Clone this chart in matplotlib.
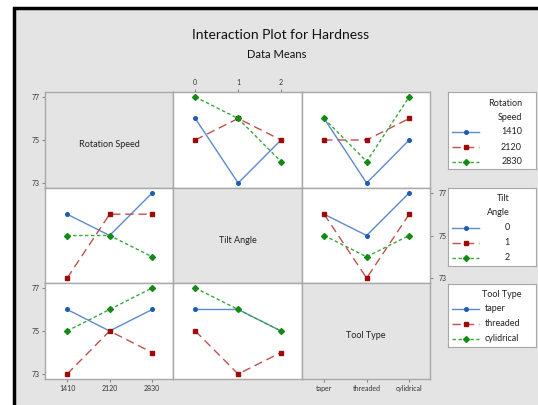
import matplotlib
matplotlib.use("Agg")
import matplotlib.pyplot as plt
from matplotlib.patches import Rectangle

plt.rcParams['font.family'] = ['Lato', 'DejaVu Sans']

# factors and levels
factors = ["Rotation Speed", "Tilt Angle", "Tool Type"]
speed_levels = ["1410", "2120", "2830"]
tilt_levels = ["0", "1", "2"]
tool_levels = ["taper", "threaded", "cylidrical"]
level_names = [speed_levels, tilt_levels, tool_levels]
legend_titles = ["Rotation\nSpeed", "Tilt\nAngle", "Tool Type"]

# means: row factor = traced series, column factor = x axis
# row 0: rotation speed series
speed_vs_tilt = [[76, 73, 75], [75, 76, 75], [77, 76, 74]]
speed_vs_tool = [[76, 73, 75], [75, 75, 76], [76, 74, 77]]
# row 1: tilt angle series
tilt_vs_speed = [[76, 75, 77], [73, 76, 76], [75, 75, 74]]
tilt_vs_tool = [[76, 75, 77], [76, 73, 76], [75, 74, 75]]
# row 2: tool type series
tool_vs_speed = [[76, 75, 76], [73, 75, 74], [75, 76, 77]]
tool_vs_tilt = [[76, 76, 75], [75, 73, 74], [77, 76, 75]]

means = {(0, 1): speed_vs_tilt, (0, 2): speed_vs_tool,
         (1, 0): tilt_vs_speed, (1, 2): tilt_vs_tool,
         (2, 0): tool_vs_speed, (2, 1): tool_vs_tilt}

yticks = [73, 75, 77]

line_cols = ["#5a8ad0", "#c0504d", "#3aa83a"]
mark_cols = ["#1f5cb8", "#9c0a0a", "#138a13"]
styles = ["-", (0, (6, 3.5)), (0, (2.5, 1.8))]
markers = ["o", "s", "D"]
msizes = [2.6, 3, 3]

W, H = 538, 405
fig = plt.figure(figsize=(W / 100, H / 100), dpi=100)
fig.patch.set_facecolor("white")
# gray frame with black border (left and top edges visible)
fig.patches.append(Rectangle((14 / W, -0.05), 1.1, 1.05 - 8 / H, transform=fig.transFigure,
                             facecolor="#e4e4e4", edgecolor="black", linewidth=2.5,
                             zorder=-10))

def px(x0, y0, x1, y1):
    return [x0 / W, 1 - y1 / H, (x1 - x0) / W, (y1 - y0) / H]

col_x = [45, 173, 302, 430]
row_y = [92, 188, 283, 379]
edge = "#a8a8a8"

for r in range(3):
    for c in range(3):
        ax = fig.add_axes(px(col_x[c], row_y[r], col_x[c + 1], row_y[r + 1]))
        ax.set_xlim(-0.52, 2.49)
        ax.set_ylim(72.77, 77.23)
        for s in ax.spines.values():
            s.set_color(edge)
            s.set_linewidth(1)
        ax.tick_params(length=0, labelsize=5, colors="#333333", pad=2)
        ax.set_xticks([])
        ax.set_yticks([])
        if r == c:
            ax.set_facecolor("#e4e4e4")
            ax.text(0.5, 0.45, factors[r], transform=ax.transAxes, ha="center",
                    va="center", fontsize=6.5, color="#222222")
        else:
            ax.set_facecolor("white")
            data = means[(r, c)]
            for i, ys in enumerate(data):
                ax.plot(range(3), ys, color=line_cols[i], linestyle=styles[i],
                        linewidth=1, marker=markers[i], markersize=msizes[i],
                        markerfacecolor=mark_cols[i], markeredgecolor=mark_cols[i])
        # outer tick labels
        if c == 0 and r in (0, 2):
            ax.set_yticks(yticks)
            ax.tick_params(axis="y", length=2, color="#888888")
        if r == 1 and c == 2:
            ax.yaxis.tick_right()
            ax.set_yticks(yticks)
            ax.tick_params(axis="y", length=2, color="#888888", pad=4)
        if r == 2 and c in (0, 2):
            ax.set_xticks(range(3))
            ax.set_xticklabels(level_names[c])
            ax.tick_params(axis="x", length=2, color="#888888")
        if r == 0 and c == 1:
            ax.xaxis.tick_top()
            ax.set_xticks(range(3))
            ax.set_xticklabels(level_names[c])
            ax.tick_params(axis="x", length=2, color="#888888")

# legends, one per row factor
leg_boxes = [(448, 92, 536, 169), (448, 188, 536, 266), (448, 284, 536, 347)]
for k, (x0, y0, x1, y1) in enumerate(leg_boxes):
    lax = fig.add_axes(px(x0, y0, x1, y1))
    lax.set_xlim(x0, x1)
    lax.set_ylim(y1, y0)
    lax.set_xticks([])
    lax.set_yticks([])
    for s in lax.spines.values():
        s.set_color(edge)
    lax.set_facecolor("white")
    if k < 2:
        right = 522 if k == 0 else 510
        t1, t2 = legend_titles[k].split("\n")
        lax.text(right, y0 + 11, t1, ha="right", va="center", fontsize=6.5, color="#222222")
        lax.text(right, y0 + 25, t2, ha="right", va="center", fontsize=6.5, color="#222222")
        ent_y = [y0 + 40, y0 + 55, y0 + 70]
        for i, lab in enumerate(level_names[k]):
            lax.text(right, ent_y[i], lab, ha="right", va="center", fontsize=6.5,
                     color="#222222")
    else:
        lax.text(522, y0 + 11, legend_titles[k], ha="right", va="center", fontsize=6.5,
                 color="#222222")
        ent_y = [y0 + 25, y0 + 40, y0 + 55]
        for i, lab in enumerate(level_names[k]):
            lax.text(485, ent_y[i], lab, ha="left", va="center", fontsize=6.5,
                     color="#222222")
    for i in range(3):
        lax.plot([452, 479], [ent_y[i]] * 2, color=line_cols[i], linestyle=styles[i],
                 linewidth=1)
        lax.plot([465.5], [ent_y[i]], marker=markers[i], markersize=msizes[i],
                 color=mark_cols[i])

fig.text(281 / W, 1 - 35 / H, "Interaction Plot for Hardness", ha="center",
         va="center", fontsize=10, color="#111111")
fig.text(277 / W, 1 - 55 / H, "Data Means", ha="center", va="center",
         fontsize=8, color="#111111")

fig.savefig("out.png", dpi=100)
